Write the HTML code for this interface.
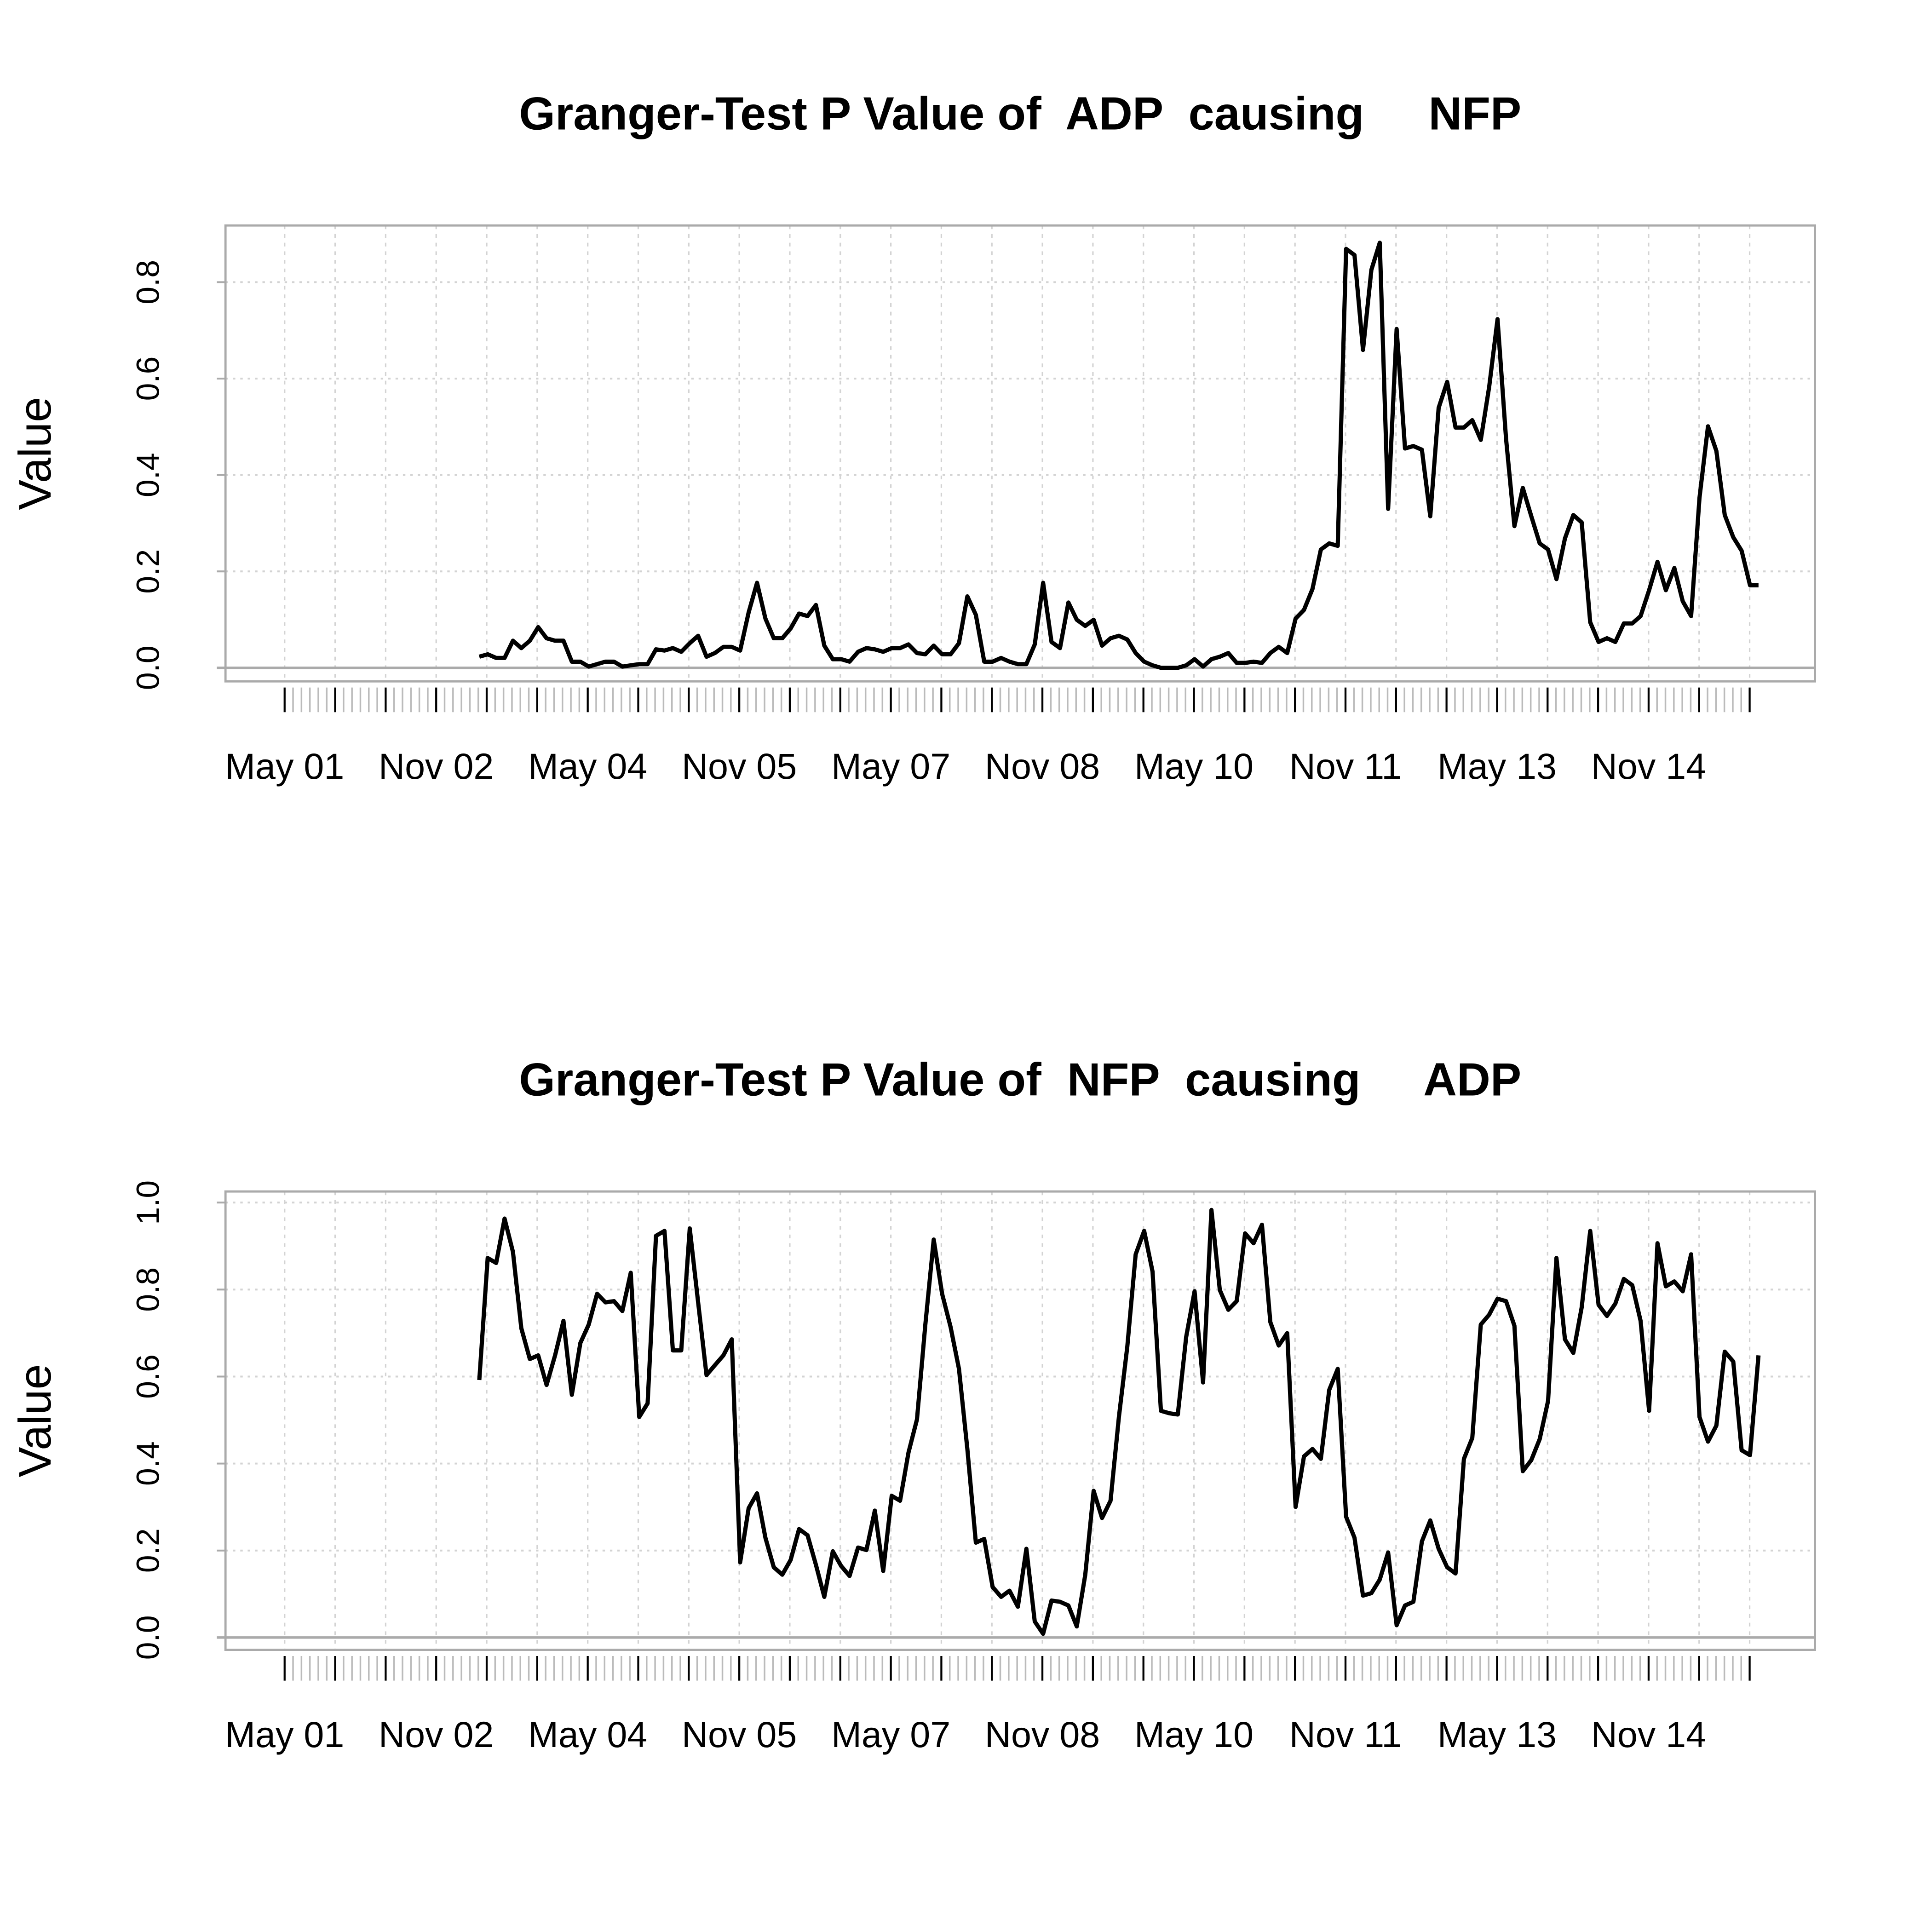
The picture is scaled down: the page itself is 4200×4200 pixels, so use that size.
<!DOCTYPE html>
<html><head><meta charset="utf-8"><style>html,body{margin:0;padding:0;background:#fff}svg{display:block}text{white-space:pre}</style></head>
<body>
<svg id="s" xmlns="http://www.w3.org/2000/svg" width="4200" height="4200" viewBox="0 0 1568 1568" font-family="Liberation Sans, Arial, sans-serif">
<rect width="1568" height="1568" fill="#fff"/>
<text x="828" y="105" font-size="37.7" font-weight="bold" text-anchor="middle" xml:space="preserve">Granger-Test P Value of  ADP  causing     NFP</text>
<text x="828" y="889" font-size="37.7" font-weight="bold" text-anchor="middle" xml:space="preserve">Granger-Test P Value of  NFP  causing     ADP</text>
<g id="g"></g>
</svg>
<script>
var NS="http://www.w3.org/2000/svg",g=document.getElementById('g');
function el(t,a,txt){var e=document.createElementNS(NS,t);for(var k in a)e.setAttribute(k,a[k]);if(txt!=null)e.textContent=txt;g.appendChild(e);return e;}
var top1=[533,531,534,534,520,526,520,509,518,520,520,537,537,541,539,537,537,541,540,539,539,527,528,526,529,522,516,533,530,525,525,528,497,473,502,518,518,510,498,500,491,524,535,535,537,529,526,527,529,526,526,523,530,531,524,531,531,522,484,499,537,537,534,537,539,539,523,473,521,526,489,503,508,503,524,518,516,519,530,537,540,542,542,542,540,535,541,535,533,530,538,538,537,538,530,525,530,502,495,478,446,441,443,202,207,284,219,197,413,267,364,362,365,419,331,310,347,347,341,357,314,259,356,427,396,419,441,446,470,437,418,424,505,521,518,521,506,506,500,479,456,479,461,488,500,404,346,366,418,436,447,475,475];
var bot=[1120,1021,1025,989,1016,1078,1103,1100,1124,1100,1072,1132,1090,1075,1050,1057,1056,1064,1033,1150,1139,1003,999,1096,1096,997,1057,1116,1108,1100,1087,1268,1224,1212,1248,1272,1278,1266,1241,1246,1270,1296,1259,1271,1279,1256,1258,1226,1275,1214,1218,1179,1152,1075,1006,1050,1077,1111,1176,1252,1249,1288,1296,1291,1304,1257,1316,1326,1299,1300,1303,1320,1278,1210,1232,1218,1150,1093,1018,999,1032,1145,1147,1148,1085,1048,1122,982,1047,1063,1056,1001,1009,994,1073,1092,1082,1223,1182,1176,1184,1128,1111,1231,1248,1295,1293,1282,1260,1319,1303,1300,1251,1234,1257,1272,1277,1184,1167,1075,1067,1054,1056,1076,1194,1185,1168,1137,1021,1087,1098,1061,999,1059,1068,1058,1038,1043,1072,1145,1009,1044,1040,1048,1018,1150,1170,1157,1097,1105,1177,1181,1100];
var labs=["May 01","Nov 02","May 04","Nov 05","May 07","Nov 08","May 10","Nov 11","May 13","Nov 14"];
function panel(bt,bb,zeroY,step,nt,tickLabs,data){
  for(var i=0;i<30;i++){var x=231+i*41.0;if(x>1470)break;el('line',{x1:x,y1:bt,x2:x,y2:bb,stroke:'#d3d3d3','stroke-width':1.2,'stroke-dasharray':'3,4'});}
  for(var j=0;j<nt;j++){var y=zeroY-j*step;
    if(j>0)el('line',{x1:183,y1:y,x2:1473,y2:y,stroke:'#d3d3d3','stroke-width':1.5,'stroke-dasharray':'2,4'});
    el('line',{x1:176,y1:y,x2:183,y2:y,stroke:'#aaa','stroke-width':1.5});
    el('text',{x:0,y:0,'font-size':26,'text-anchor':'middle',fill:'#000',transform:'translate(129,'+y+') rotate(-90)'},tickLabs[j]);}
  el('line',{x1:176,y1:zeroY,x2:1473,y2:zeroY,stroke:'#aaa','stroke-width':2});
  el('rect',{x:183,y:bt,width:1290,height:bb-bt,fill:'none',stroke:'#aaa','stroke-width':1.8});
  el('text',{x:0,y:0,'font-size':37,'text-anchor':'middle',transform:'translate(41,'+((bt+bb)/2)+') rotate(-90)'},'Value');
  var ms=41.0/6;
  for(var k=0;k<=175;k++){var x=231+k*ms;if(x>1426)break;var maj=(k%6==0);
    el('line',{x1:x,y1:bb+5,x2:x,y2:bb+25,stroke:maj?'#000':'#bbb','stroke-width':maj?1.6:1.3});}
  for(var m=0;m<labs.length;m++){el('text',{x:231+m*123,y:bb+79,'font-size':29.5,'text-anchor':'middle'},labs[m]);}
  var pts=[];for(var p=0;p<data.length;p++)pts.push((389+p*6.83).toFixed(1)+','+data[p]);
  el('polyline',{points:pts.join(' '),fill:'none',stroke:'#000','stroke-width':3.4,'stroke-linejoin':'round'});
}
panel(183,553,542,78.25,5,["0.0","0.2","0.4","0.6","0.8"],top1);
panel(967,1339,1329,70.6,6,["0.0","0.2","0.4","0.6","0.8","1.0"],bot);
</script>
</body></html>
